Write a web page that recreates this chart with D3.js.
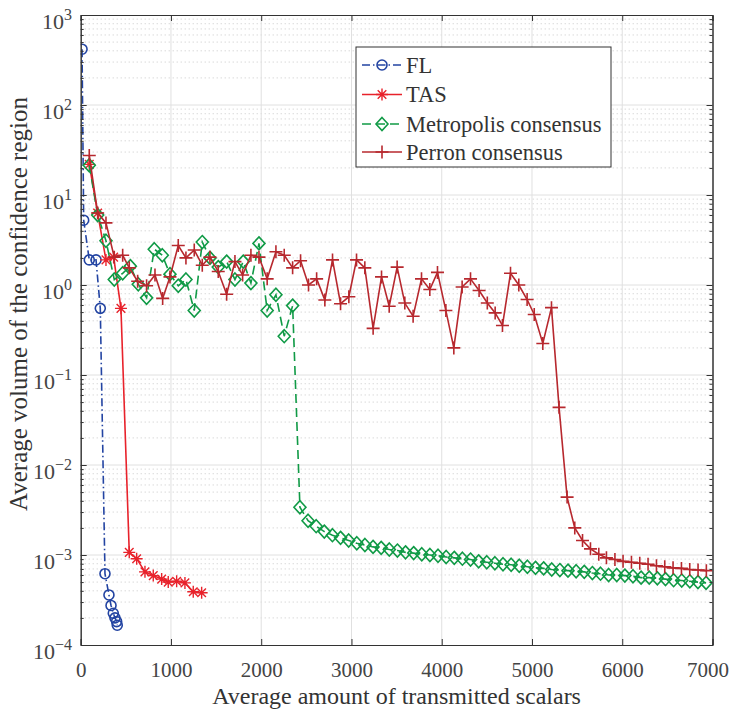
<!DOCTYPE html>
<html>
<head>
<meta charset="utf-8">
<script src="https://cdn.jsdelivr.net/npm/d3@7"></script>
<style>
  body { margin: 0; background: #fff; }
  svg { font-family: "Liberation Serif", serif; }
</style>
</head>
<body>
<svg id="canvas" width="731" height="711"></svg>
<script>
// ---------------------------------------------------------------- data
var xTicks = [0, 1000, 2000, 3000, 4000, 5000, 6000, 7000];
var yExps = [-4, -3, -2, -1, 0, 1, 2, 3];

var names = ['FL', 'TAS', 'Metropolis consensus', 'Perron consensus'];

var fl_x = [15, 33, 95, 170, 217, 269, 313, 336, 361, 380, 398, 405];
var fl_y = [417, 5.25, 1.9, 1.9, 0.55, 6.2e-4, 3.6e-4, 2.75e-4, 2.25e-4, 2.0e-4, 1.82e-4, 1.66e-4];

var tas_x = [95, 188, 280, 365, 446, 538, 620, 712, 804, 897, 970, 1063, 1155, 1247, 1340];
var tas_y = [21.9, 6.3, 1.9, 2.04, 0.55, 1.07e-3, 9.1e-4, 6.5e-4, 5.9e-4, 5.4e-4, 5.0e-4, 5.1e-4, 4.9e-4, 3.9e-4, 3.8e-4];

var met_x = [95, 188, 280, 372, 465, 550, 638, 730, 815, 904, 989, 1081, 1166, 1258, 1347, 1432, 1524, 1617, 1709, 1801,
  1886, 1975, 2066, 2163, 2255, 2348,
  2429, 2519, 2609, 2699, 2789, 2879, 2969, 3059, 3149, 3239, 3329, 3419, 3509, 3599, 3689, 3779, 3869, 3959, 4049, 4139,
  4229, 4319, 4409, 4499, 4589, 4679, 4769, 4859, 4949, 5039, 5129, 5219, 5309, 5399, 5489, 5579, 5669, 5759, 5849, 5939,
  6029, 6119, 6209, 6299, 6389, 6479, 6569, 6659, 6749, 6839, 6929];
var met_y = [21.4, 6.0, 3.1, 1.15, 1.35, 1.62, 1.02, 0.72, 2.5, 2.14, 1.32, 0.98, 1.15, 0.52, 3.0, 2.0, 1.58, 1.82, 1.15, 1.82,
  1.05, 2.9, 0.52, 0.78, 0.27, 0.59,
  3.39e-3, 2.40e-3, 2.09e-3, 1.82e-3, 1.66e-3, 1.55e-3, 1.45e-3, 1.35e-3, 1.29e-3, 1.23e-3, 1.20e-3, 1.15e-3, 1.12e-3,
  1.07e-3, 1.05e-3, 1.02e-3, 1.00e-3, 9.8e-4, 9.5e-4, 9.3e-4, 9.1e-4, 8.9e-4, 8.5e-4, 8.3e-4, 8.1e-4, 7.9e-4, 7.8e-4,
  7.6e-4, 7.4e-4, 7.2e-4, 7.1e-4, 6.9e-4, 6.8e-4, 6.7e-4, 6.6e-4, 6.5e-4, 6.3e-4, 6.2e-4, 6.0e-4, 6.0e-4, 5.9e-4,
  5.8e-4, 5.6e-4, 5.6e-4, 5.5e-4, 5.4e-4, 5.25e-4, 5.2e-4, 5.1e-4, 5.0e-4, 4.9e-4];

var per_x = [95, 188, 280, 372, 465, 538, 631, 730, 823, 908, 989, 1081, 1166, 1258, 1347, 1432, 1524, 1617, 1709, 1794,
  1886, 1975, 2066, 2163, 2255, 2348, 2436, 2524, 2614, 2705, 2790, 2879, 2971, 3056, 3148, 3240, 3333, 3418, 3506, 3591,
  3683, 3776, 3868, 3953, 4046, 4134, 4226, 4319, 4414, 4505, 4592, 4673, 4762, 4854, 4946, 5025, 5120, 5216, 5300, 5389,
  5474, 5560, 5648, 5740, 5825, 5919, 6009, 6102, 6194, 6286, 6379, 6471, 6563, 6656, 6748, 6840, 6932];
var per_y = [27.5, 6.3, 4.9, 2.04, 2.14, 1.55, 1.10, 0.98, 1.29, 0.71, 1.23, 2.75, 2.0, 2.45, 1.66, 2.04, 1.41, 0.79, 1.82, 1.29,
  2.14, 2.04, 1.17, 2.34, 2.14, 1.55, 1.86, 1.0, 1.17, 0.68, 1.9, 0.62, 0.74, 1.9, 1.55, 0.33, 1.23, 0.58, 1.58, 0.63,
  0.45, 1.17, 0.89, 1.38, 0.52, 0.20, 0.95, 1.17, 0.87, 0.63, 0.49, 0.355, 1.35, 1.0, 0.69, 0.47, 0.224, 0.56, 0.0437, 4.4e-3,
  2.0e-3, 1.45e-3, 1.17e-3, 1.02e-3, 9.3e-4, 8.9e-4, 8.5e-4, 8.3e-4, 8.1e-4, 7.9e-4, 7.6e-4, 7.4e-4, 7.2e-4, 7.1e-4, 6.9e-4, 6.8e-4, 6.7e-4];

// ---------------------------------------------------------------- setup
var pLeft = 80.7, pRight = 712.5, pTop = 15, pBottom = 645;
var xScale = d3.scaleLinear().domain([0, 7000]).range([pLeft, pRight]);
var yScale = d3.scaleLog().domain([1e-4, 1e3]).range([pBottom, pTop]);

var svg = d3.select('#canvas');
svg.append('rect').attr('width', 731).attr('height', 711).attr('fill', '#fff');

svg.append('defs').append('clipPath').attr('id', 'clip')
  .append('rect').attr('x', pLeft).attr('y', pTop).attr('width', pRight - pLeft).attr('height', pBottom - pTop);

// grid
var minor = [];
yExps.slice(0, -1).forEach(function(e){ for (var k = 2; k <= 9; k++) minor.push(k * Math.pow(10, e)); });
var grid = svg.append('g');
grid.selectAll('.mg').data(minor).enter().append('line')
  .attr('x1', pLeft).attr('x2', pRight).attr('y1', d => yScale(d)).attr('y2', d => yScale(d))
  .style('stroke', '#c8c8c8').style('stroke-width', 1).style('stroke-dasharray', '1,3');
grid.selectAll('.gy').data(yExps.slice(1, -1)).enter().append('line')
  .attr('x1', pLeft).attr('x2', pRight).attr('y1', d => yScale(Math.pow(10, d))).attr('y2', d => yScale(Math.pow(10, d)))
  .style('stroke', '#e0e0e0').style('stroke-width', 1);
grid.selectAll('.gx').data(xTicks.slice(1, -1)).enter().append('line')
  .attr('y1', pTop).attr('y2', pBottom).attr('x1', d => xScale(d)).attr('x2', d => xScale(d))
  .style('stroke', '#e0e0e0').style('stroke-width', 1);

// ---------------------------------------------------------------- series
var series = [
  { x: fl_x, y: fl_y, color: '#2344a2', dash: '8,3,1.5,3', marker: 'circle' },
  { x: tas_x, y: tas_y, color: '#e8222b', dash: null, marker: 'star' },
  { x: met_x, y: met_y, color: '#109a46', dash: '9,5', marker: 'diamond' },
  { x: per_x, y: per_y, color: '#b7282e', dash: null, marker: 'plus' }
];

var line_gen = d3.line().x(d => xScale(d[0])).y(d => yScale(d[1]));

function drawMarker(g, type, color){
  if (type == 'circle') {
    g.append('circle').attr('r', 5).style('stroke', color).style('stroke-width', 1.6).style('fill', 'none');
  } else if (type == 'diamond') {
    g.append('path').attr('d', 'M0,-6.5L6,0L0,6.5L-6,0Z').style('stroke', color).style('stroke-width', 1.6).style('fill', 'none');
  } else if (type == 'plus') {
    g.append('path').attr('d', 'M-6.5,0H6.5M0,-6.5V6.5').style('stroke', color).style('stroke-width', 1.6);
  } else if (type == 'star') {
    g.append('path').attr('d', 'M-6,0H6M0,-6V6M-4.3,-4.3L4.3,4.3M-4.3,4.3L4.3,-4.3').style('stroke', color).style('stroke-width', 1.4);
  }
}

var plot = svg.append('g').attr('clip-path', 'url(#clip)');
series.forEach(function(s){
  var data = s.x.map((d, i) => [d, s.y[i]]);
  var g = plot.append('g');
  g.append('path').attr('d', line_gen(data))
    .style('stroke', s.color).style('stroke-width', 1.6).style('fill', 'none')
    .style('stroke-dasharray', s.dash);
  g.selectAll('.m').data(data).enter().append('g')
    .attr('transform', d => 'translate(' + xScale(d[0]) + ',' + yScale(d[1]) + ')')
    .each(function(){ drawMarker(d3.select(this), s.marker, s.color); });
});

// ---------------------------------------------------------------- axes
var axisColor = '#333';
var xb = svg.append('g').attr('transform', 'translate(0,' + pBottom + ')')
  .call(d3.axisBottom(xScale).tickValues(xTicks).tickFormat(d3.format('d')).tickSize(-6).tickPadding(17));
var xt = svg.append('g').attr('transform', 'translate(0,' + pTop + ')')
  .call(d3.axisTop(xScale).tickValues(xTicks).tickFormat('').tickSize(-6));
var yl = svg.append('g').attr('transform', 'translate(' + pLeft + ',0)')
  .call(d3.axisLeft(yScale).tickValues(yExps.map(e => Math.pow(10, e))).tickFormat('').tickSize(-6));
var yr = svg.append('g').attr('transform', 'translate(' + pRight + ',0)')
  .call(d3.axisRight(yScale).tickValues(yExps.map(e => Math.pow(10, e))).tickFormat('').tickSize(-6));
var ylm = svg.append('g').attr('transform', 'translate(' + pLeft + ',0)')
  .call(d3.axisLeft(yScale).tickValues(minor).tickFormat('').tickSize(-3).tickSizeOuter(0));
var yrm = svg.append('g').attr('transform', 'translate(' + pRight + ',0)')
  .call(d3.axisRight(yScale).tickValues(minor).tickFormat('').tickSize(-3).tickSizeOuter(0));

[xb, xt, yl, yr, ylm, yrm].forEach(function(a){
  a.selectAll('path').style('stroke', axisColor).style('stroke-width', 1);
  a.selectAll('line').style('stroke', axisColor).style('stroke-width', 1);
});
xb.selectAll('text').style('font-size', '21px').style('fill', '#444').style('font-family', '"Liberation Serif", serif');
// keep last label inside the window
xb.selectAll('.tick').filter(d => d == 7000).select('text').attr('dx', -5);

// y tick labels as 10^e
var ylab = svg.append('g');
yExps.forEach(function(e){
  var t = ylab.append('text').attr('x', 72).attr('y', yScale(Math.pow(10, e)) + 13.5)
    .attr('text-anchor', 'end').style('fill', '#444').style('font-size', '22px');
  t.append('tspan').text('10');
  t.append('tspan').attr('dy', -9).style('font-size', '16px').text(String(e).replace('-', '\u2212'));
});

// axis titles
svg.append('text').attr('x', (pLeft + pRight) / 2).attr('y', 704).attr('text-anchor', 'middle')
  .style('font-size', '24px').style('fill', '#333').text('Average amount of transmitted scalars');
svg.append('text').attr('transform', 'translate(27,304) rotate(-90)').attr('text-anchor', 'middle')
  .style('font-size', '25px').style('fill', '#333').text('Average volume of the confidence region');

// ---------------------------------------------------------------- legend
var lg = svg.append('g');
lg.append('rect').attr('x', 356).attr('y', 47).attr('width', 255).attr('height', 120)
  .style('fill', '#fff').style('stroke', axisColor).style('stroke-width', 1);
var legY = [65, 94.5, 124, 152];
series.forEach(function(s, i){
  var g = lg.append('g').attr('transform', 'translate(0,' + legY[i] + ')');
  g.append('line').attr('x1', 362).attr('x2', 402).attr('y1', 0).attr('y2', 0)
    .style('stroke', s.color).style('stroke-width', 1.6).style('stroke-dasharray', s.dash);
  drawMarker(g.append('g').attr('transform', 'translate(382,0)'), s.marker, s.color);
  g.append('text').attr('x', 406).attr('y', 7.5).style('font-size', '22.5px').style('fill', '#333').text(names[i]);
});
</script>
</body>
</html>
